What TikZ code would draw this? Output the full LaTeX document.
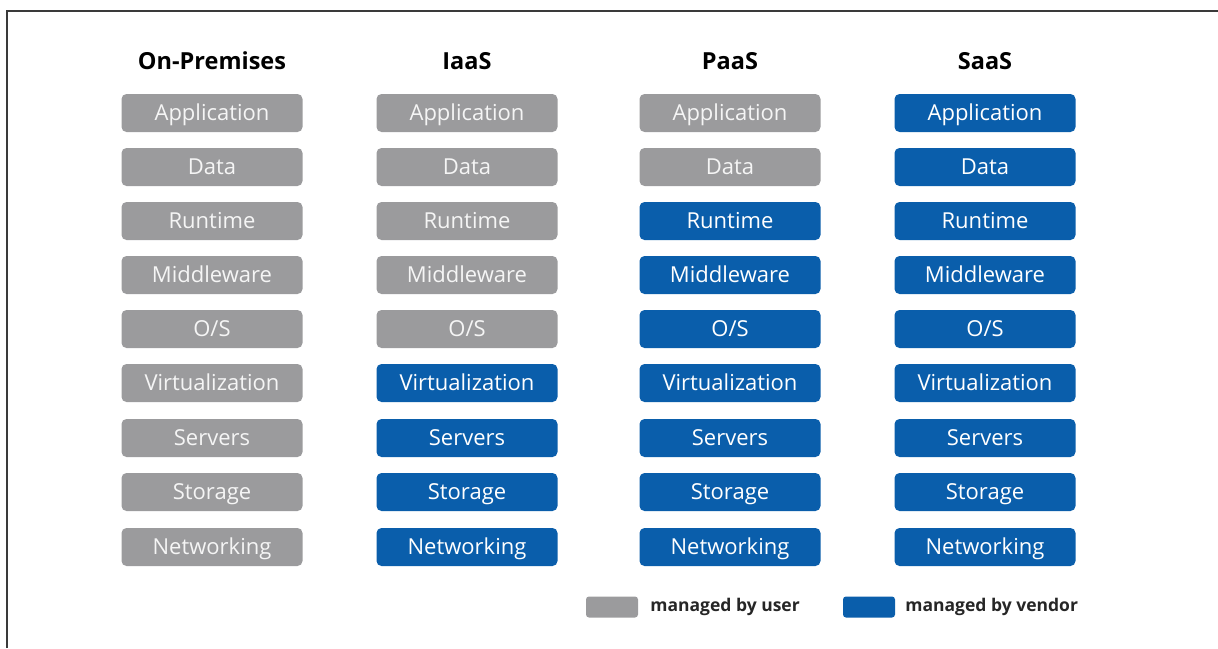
\documentclass[tikz,border=0pt]{standalone}
\usepackage{fontspec}
\setmainfont{Open Sans}
\usetikzlibrary{positioning}

\definecolor{usergray}{HTML}{9B9B9D}
\definecolor{vendorblue}{HTML}{0A5EAB}
\definecolor{framegray}{HTML}{3A3A3A}

\begin{document}
\begin{tikzpicture}[x=1pt,y=1pt,
    user/.style={fill=usergray, text=white!92!gray, rounded corners=5pt,
        minimum width=181pt, minimum height=38pt, inner sep=0pt,
        text height=16pt, text depth=2pt, font=\fontsize{22}{24}\selectfont},
    vendor/.style={user, fill=vendorblue, text=white},
    header/.style={font=\fontsize{23.5}{26}\selectfont\bfseries},
    legbox/.style={rounded corners=3pt, minimum width=52pt, minimum height=21pt, inner sep=0pt},
    legtext/.style={font=\fontsize{17.5}{19}\selectfont\bfseries, text=black!85, inner sep=0pt}]
        \useasboundingbox (0,0) rectangle (1218,-648);
        % Frame
        \draw[framegray, line width=2pt] (7,-648) -- (7,-11) -- (1218,-11);

        % On-Premises column
        \node[header] (h1) at (212,-61) {On-Premises};
        \node[user] (a1) at (212,-113) {Application};
        \node[user] (b1) at (212,-167) {Data};
        \node[user] (c1) at (212,-221) {Runtime};
        \node[user] (d1) at (212,-275) {Middleware};
        \node[user] (e1) at (212,-329) {O/S};
        \node[user] (f1) at (212,-383) {Virtualization};
        \node[user] (g1) at (212,-438) {Servers};
        \node[user] (i1) at (212,-492) {Storage};
        \node[user] (j1) at (212,-547) {Networking};

        % IaaS column
        \node[header] (h2) at (467,-61) {IaaS};
        \node[user] (a2) at (467,-113) {Application};
        \node[user] (b2) at (467,-167) {Data};
        \node[user] (c2) at (467,-221) {Runtime};
        \node[user] (d2) at (467,-275) {Middleware};
        \node[user] (e2) at (467,-329) {O/S};
        \node[vendor] (f2) at (467,-383) {Virtualization};
        \node[vendor] (g2) at (467,-438) {Servers};
        \node[vendor] (i2) at (467,-492) {Storage};
        \node[vendor] (j2) at (467,-547) {Networking};

        % PaaS column
        \node[header] (h3) at (730,-61) {PaaS};
        \node[user] (a3) at (730,-113) {Application};
        \node[user] (b3) at (730,-167) {Data};
        \node[vendor] (c3) at (730,-221) {Runtime};
        \node[vendor] (d3) at (730,-275) {Middleware};
        \node[vendor] (e3) at (730,-329) {O/S};
        \node[vendor] (f3) at (730,-383) {Virtualization};
        \node[vendor] (g3) at (730,-438) {Servers};
        \node[vendor] (i3) at (730,-492) {Storage};
        \node[vendor] (j3) at (730,-547) {Networking};

        % SaaS column
        \node[header] (h4) at (985,-61) {SaaS};
        \node[vendor] (a4) at (985,-113) {Application};
        \node[vendor] (b4) at (985,-167) {Data};
        \node[vendor] (c4) at (985,-221) {Runtime};
        \node[vendor] (d4) at (985,-275) {Middleware};
        \node[vendor] (e4) at (985,-329) {O/S};
        \node[vendor] (f4) at (985,-383) {Virtualization};
        \node[vendor] (g4) at (985,-438) {Servers};
        \node[vendor] (i4) at (985,-492) {Storage};
        \node[vendor] (j4) at (985,-547) {Networking};

        % Legend
        \node[legbox, fill=usergray] (legU) at (612,-607) {};
        \node[legtext, right=12pt of legU] (legUtxt) {managed by user};
        \node[legbox, fill=vendorblue] (legV) at (869,-607) {};
        \node[legtext, right=10pt of legV] (legVtxt) {managed by vendor};
    \end{tikzpicture}
\end{document}
